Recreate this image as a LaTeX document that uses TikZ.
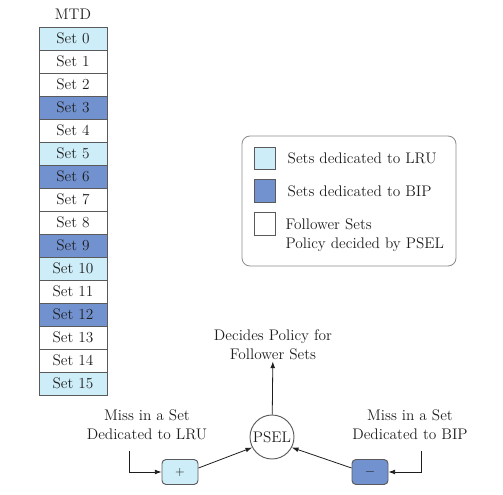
\documentclass[tikz,border=0pt]{standalone}
\usepackage{tikz}
\usetikzlibrary{arrows.meta,positioning}
\definecolor{lru}{HTML}{CDEDF8}
\definecolor{bip}{HTML}{7292CF}
\definecolor{border}{HTML}{5A5A5A}
\definecolor{frame}{HTML}{8A8A8A}
\definecolor{ink}{HTML}{1E1E1E}
\tikzset{
  setbox/.style={draw=border, line width=0.6pt, minimum width=51pt, minimum height=17.25pt, inner sep=0pt, outer sep=0pt, text=ink, font=\fontsize{11.5}{13}\selectfont},
  lrubox/.style={setbox, fill=lru},
  bipbox/.style={setbox, fill=bip},
  folbox/.style={setbox, fill=white},
  swatch/.style={draw=border, line width=0.6pt, minimum width=15.75pt, minimum height=17pt, inner sep=0pt},
  lbl/.style={text=ink, font=\fontsize{11.5}{14}\selectfont, align=center, inner sep=1pt},
  opbox/.style={draw=border, line width=0.7pt, rounded corners=3pt, minimum width=27pt, minimum height=18.75pt, inner sep=0pt, text=ink},
  arr/.style={-{Latex[length=5pt,width=3.6pt]}, line width=0.6pt, draw=ink}
}

\begin{document}
\begin{tikzpicture}[x=0.75pt, y=-0.75pt]
  \useasboundingbox (0,0) rectangle (503,495);

  % the MTD column
  \node[lbl] (mtd) at (73,14) {MTD};
  \node[lrubox] (s0) at (73,38.5) {Set 0};
  \node[folbox, below=0pt of s0]  (s1)  {Set 1};
  \node[folbox, below=0pt of s1]  (s2)  {Set 2};
  \node[bipbox, below=0pt of s2]  (s3)  {Set 3};
  \node[folbox, below=0pt of s3]  (s4)  {Set 4};
  \node[lrubox, below=0pt of s4]  (s5)  {Set 5};
  \node[bipbox, below=0pt of s5]  (s6)  {Set 6};
  \node[folbox, below=0pt of s6]  (s7)  {Set 7};
  \node[folbox, below=0pt of s7]  (s8)  {Set 8};
  \node[bipbox, below=0pt of s8]  (s9)  {Set 9};
  \node[lrubox, below=0pt of s9]  (s10) {Set 10};
  \node[folbox, below=0pt of s10] (s11) {Set 11};
  \node[bipbox, below=0pt of s11] (s12) {Set 12};
  \node[folbox, below=0pt of s12] (s13) {Set 13};
  \node[folbox, below=0pt of s13] (s14) {Set 14};
  \node[lrubox, below=0pt of s14] (s15) {Set 15};

  % legend
  \draw[frame, line width=0.6pt, rounded corners=6pt] (242,136) rectangle (456,266);
  \node[swatch, fill=lru]   (keyLRU) at (264.5,158.5) {};
  \node[swatch, fill=bip]   (keyBIP) at (264.5,191) {};
  \node[swatch, fill=white] (keyFol) at (264.5,224) {};
  \node[lbl, anchor=west, right=8pt of keyLRU] {Sets dedicated to LRU};
  \node[lbl, anchor=west, right=8pt of keyBIP] {Sets dedicated to BIP};
  \node[lbl, anchor=west, align=left] at (284,235) {Follower Sets\\Policy decided by PSEL};

  % PSEL counter
  \node[draw=border, line width=0.7pt, circle, minimum size=33pt, inner sep=0pt, text=ink, font=\fontsize{11.5}{13}\selectfont] (psel) at (272,437) {PSEL};
  \node[lbl] (decides) at (273,345) {Decides Policy for\\Follower Sets};
  \node[opbox, fill=lru] (plus)  at (180,472) {\small +};
  \node[opbox, fill=bip] (minus) at (370,472) {$-$};
  \node[lbl] (missLRU) at (147,425) {Miss in a Set\\Dedicated to LRU};
  \node[lbl] (missBIP) at (410,425) {Miss in a Set\\Dedicated to BIP};
  \coordinate (inLRU) at (129,451);
  \coordinate (inBIP) at (421,451);

  \draw[arr] (psel) -- (decides);
  \draw[arr] (inLRU) |- (plus.west);
  \draw[arr] (inBIP) |- (minus.east);
  \draw[arr] ([yshift=3pt]plus.east) -- (psel.208);
  \draw[arr] ([yshift=3pt]minus.west) -- (psel.332);
\end{tikzpicture}
\end{document}
